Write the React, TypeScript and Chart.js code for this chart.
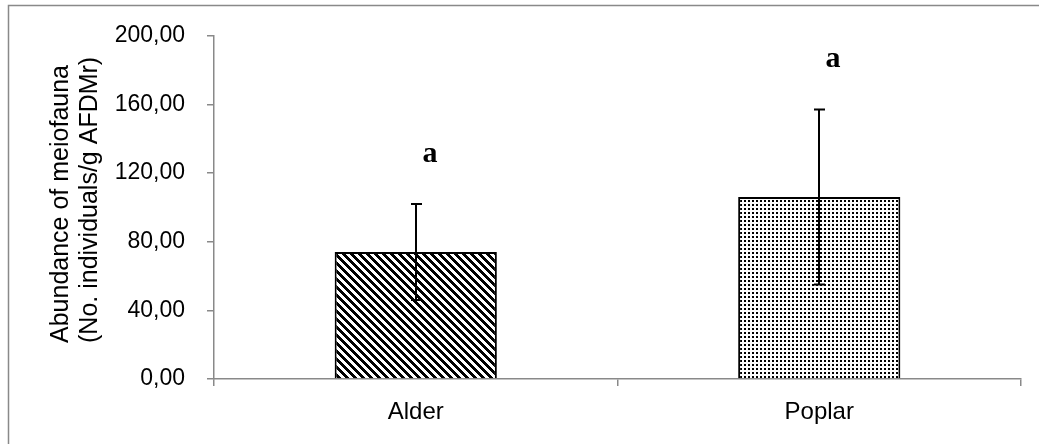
import React, { useEffect, useRef } from "react";
import { Chart, registerables } from "chart.js";

Chart.register(...registerables);

const categories = ["Alder", "Poplar"];
const means = [74, 106];
const stdDevs = [28, 51];
const letters = ["a", "a"];
const yTicks = [0, 40, 80, 120, 160, 200];
const yTitleLines = ["Abundance of meiofauna", "(No. individuals/g AFDMr)"];

const AXIS_GRAY = "#898989";

function makeStripePattern(ctx: CanvasRenderingContext2D) {
  const c = document.createElement("canvas");
  c.width = 8;
  c.height = 8;
  const g = c.getContext("2d")!;
  const img = g.createImageData(8, 8);
  for (let y = 0; y < 8; y++) {
    for (let x = 0; x < 8; x++) {
      const black = (((x - y) % 8) + 8) % 8 < 4;
      const i = (y * 8 + x) * 4;
      const v = black ? 0 : 255;
      img.data[i] = v;
      img.data[i + 1] = v;
      img.data[i + 2] = v;
      img.data[i + 3] = 255;
    }
  }
  g.putImageData(img, 0, 0);
  return ctx.createPattern(c, "repeat")!;
}

function makeDotPattern(ctx: CanvasRenderingContext2D) {
  const c = document.createElement("canvas");
  c.width = 4;
  c.height = 4;
  const g = c.getContext("2d")!;
  g.fillStyle = "#fff";
  g.fillRect(0, 0, 4, 4);
  g.fillStyle = "#000";
  g.fillRect(0, 0, 2, 2);
  return ctx.createPattern(c, "repeat")!;
}

const framePlugin = {
  id: "frame",
  beforeDraw(chart: any) {
    const ctx = chart.ctx;
    ctx.save();
    ctx.fillStyle = "#fff";
    ctx.fillRect(0, 0, chart.width, chart.height);
    ctx.strokeStyle = AXIS_GRAY;
    ctx.lineWidth = 1.5;
    ctx.strokeRect(8.5, 5.5, chart.width + 50, chart.height + 50);
    ctx.restore();
  },
};

const yTitlePlugin = {
  id: "yTitle",
  afterDraw(chart: any) {
    const ctx = chart.ctx;
    ctx.save();
    ctx.fillStyle = "#000";
    ctx.font = "25px 'Liberation Sans', Arial, sans-serif";
    ctx.textAlign = "left";
    ctx.textBaseline = "alphabetic";
    const baselines = [68, 97];
    yTitleLines.forEach((line, i) => {
      ctx.save();
      ctx.translate(baselines[i], 343);
      ctx.rotate(-Math.PI / 2);
      ctx.fillText(line, 0, 0);
      ctx.restore();
    });
    ctx.restore();
  },
};

const errorBarPlugin = {
  id: "errorBars",
  afterDatasetsDraw(chart: any) {
    const ctx = chart.ctx;
    const meta = chart.getDatasetMeta(0);
    const yScale = chart.scales.y;
    ctx.save();
    ctx.strokeStyle = "#000";
    ctx.lineWidth = 2;
    meta.data.forEach((bar: any, i: number) => {
      const x = Math.round(bar.x);
      const top = yScale.getPixelForValue(means[i] + stdDevs[i]);
      const bot = yScale.getPixelForValue(means[i] - stdDevs[i]);
      ctx.beginPath();
      ctx.moveTo(x, top);
      ctx.lineTo(x, bot);
      ctx.moveTo(x - 5, top);
      ctx.lineTo(x + 6, top);
      ctx.moveTo(x - 5, bot);
      ctx.lineTo(x + 6, bot);
      ctx.stroke();
      ctx.fillStyle = "#000";
      ctx.font = "bold 30px 'Liberation Serif', 'Times New Roman', serif";
      ctx.textAlign = "center";
      ctx.textBaseline = "middle";
      ctx.fillText(letters[i], x + 14, top - 50);
    });
    ctx.restore();
  },
};

export default function App() {
  const ref = useRef<HTMLCanvasElement>(null);

  useEffect(() => {
    const canvas = ref.current!;
    const ctx = canvas.getContext("2d")!;
    const fills = [makeStripePattern(ctx), makeDotPattern(ctx)];
    const chart = new Chart(canvas, {
      type: "bar",
      data: {
        labels: categories,
        datasets: [
          {
            data: means,
            backgroundColor: fills as any,
            borderColor: "#000",
            borderWidth: 2,
            categoryPercentage: 1,
            barPercentage: 0.402,
          },
        ],
      },
      options: {
        responsive: false,
        animation: false,
        devicePixelRatio: 1,
        layout: { padding: { top: 35, right: 18, left: 0, bottom: 0 } },
        plugins: {
          legend: { display: false },
          tooltip: { enabled: false },
          title: { display: false },
        },
        scales: {
          x: {
            grid: {
              offset: true,
              drawOnChartArea: false,
              drawTicks: true,
              tickLength: 7,
              color: AXIS_GRAY,
              lineWidth: 1.5,
            },
            border: { color: AXIS_GRAY, width: 1.5 },
            ticks: {
              color: "#000",
              padding: 12,
              font: { family: "'Liberation Sans', Arial, sans-serif", size: 24 },
            },
            afterFit(scale: any) {
              scale.height = 65;
            },
          },
          y: {
            min: 0,
            max: 200,
            grid: {
              drawOnChartArea: false,
              drawTicks: true,
              tickLength: 7,
              color: AXIS_GRAY,
              lineWidth: 1.5,
            },
            border: { color: AXIS_GRAY, width: 1.5 },
            afterBuildTicks(scale: any) {
              scale.ticks = yTicks.map((v) => ({ value: v }));
            },
            ticks: {
              color: "#000",
              padding: 22,
              font: { family: "'Liberation Sans', Arial, sans-serif", size: 23 },
              callback: (v: any) => Number(v).toFixed(2).replace(".", ","),
            },
            afterFit(scale: any) {
              scale.width = 214;
            },
          },
        },
      },
      plugins: [framePlugin, errorBarPlugin, yTitlePlugin],
    });
    return () => chart.destroy();
  }, []);

  return (
    <div style={{ position: "absolute", left: 0, top: 0, width: 1039, height: 444 }}>
      <canvas ref={ref} width={1039} height={444} style={{ width: 1039, height: 444, display: "block" }} />
    </div>
  );
}
